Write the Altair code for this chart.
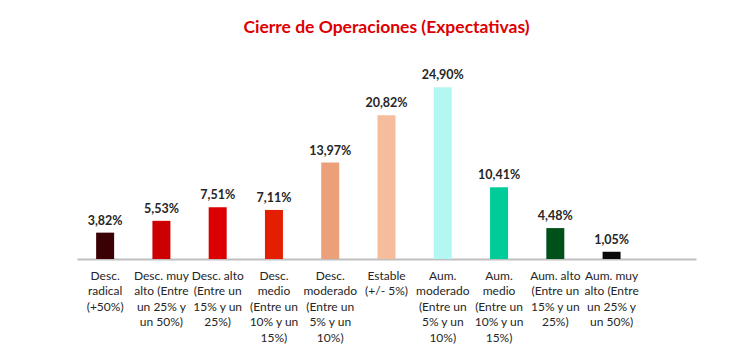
import altair as alt
import pandas as pd

categories = [
    "Desc.|radical|(+50%)",
    "Desc. muy|alto (Entre|un 25% y|un 50%)",
    "Desc. alto|(Entre un|15% y un|25%)",
    "Desc.|medio|(Entre un|10% y un|15%)",
    "Desc.|moderado|(Entre un|5% y un|10%)",
    "Estable|(+/- 5%)",
    "Aum.|moderado|(Entre un|5% y un|10%)",
    "Aum.|medio|(Entre un|10% y un|15%)",
    "Aum. alto|(Entre un|15% y un|25%)",
    "Aum. muy|alto (Entre|un 25% y|un 50%)",
]
values = [3.82, 5.53, 7.51, 7.11, 13.97, 20.82, 24.90, 10.41, 4.48, 1.05]
colors = ["#3a0004", "#cc0000", "#dc0000", "#e41e00", "#eba07a",
          "#f5bd9c", "#b3f7f2", "#00cc99", "#00501a", "#0a0a0a"]

labels = [f"{v:.2f}".replace(".", ",") + "%" for v in values]
df = pd.DataFrame({"cat": categories, "val": values, "lab": labels, "col": colors})

domain = categories + [" "]

x = alt.X("cat:N", sort=domain, scale=alt.Scale(domain=domain, paddingInner=0, paddingOuter=0),
          axis=alt.Axis(title=None, labelAngle=0, ticks=False, domainColor="#bfbfbf",
                        domainWidth=2, labelPadding=11, labelFontSize=12,
                        labelFont="Lato", labelColor="#262626", labelLineHeight=15.5,
                        labelBaseline="top", labelLimit=0, grid=False,
                        labelExpr="split(datum.label, '|')"))
y = alt.Y("val:Q", scale=alt.Scale(domain=[0, 30]), axis=None)

base = alt.Chart(df).encode(x=x, y=y)
bars = base.mark_bar(size=18).encode(color=alt.Color("col:N", scale=None))
text = base.mark_text(dy=-12, fontSize=12.5, fontWeight="bold", font="Lato",
                      color="#262626").encode(text="lab:N")

chart = (bars + text).properties(
    width=619, height=207,
    padding={"left": 77, "top": 52, "right": 54, "bottom": 95},
    autosize=alt.AutoSizeParams(type="none"),
    background="white",
    title=alt.TitleParams("Cierre de Operaciones (Expectativas)", color="#dd0000",
                          font="Lato", fontSize=17.5, fontWeight="bold", offset=16,
                          anchor="middle"),
).configure_view(strokeWidth=0, stroke=None)

chart.save("out.html", embed_options={"renderer": "svg", "actions": False})
